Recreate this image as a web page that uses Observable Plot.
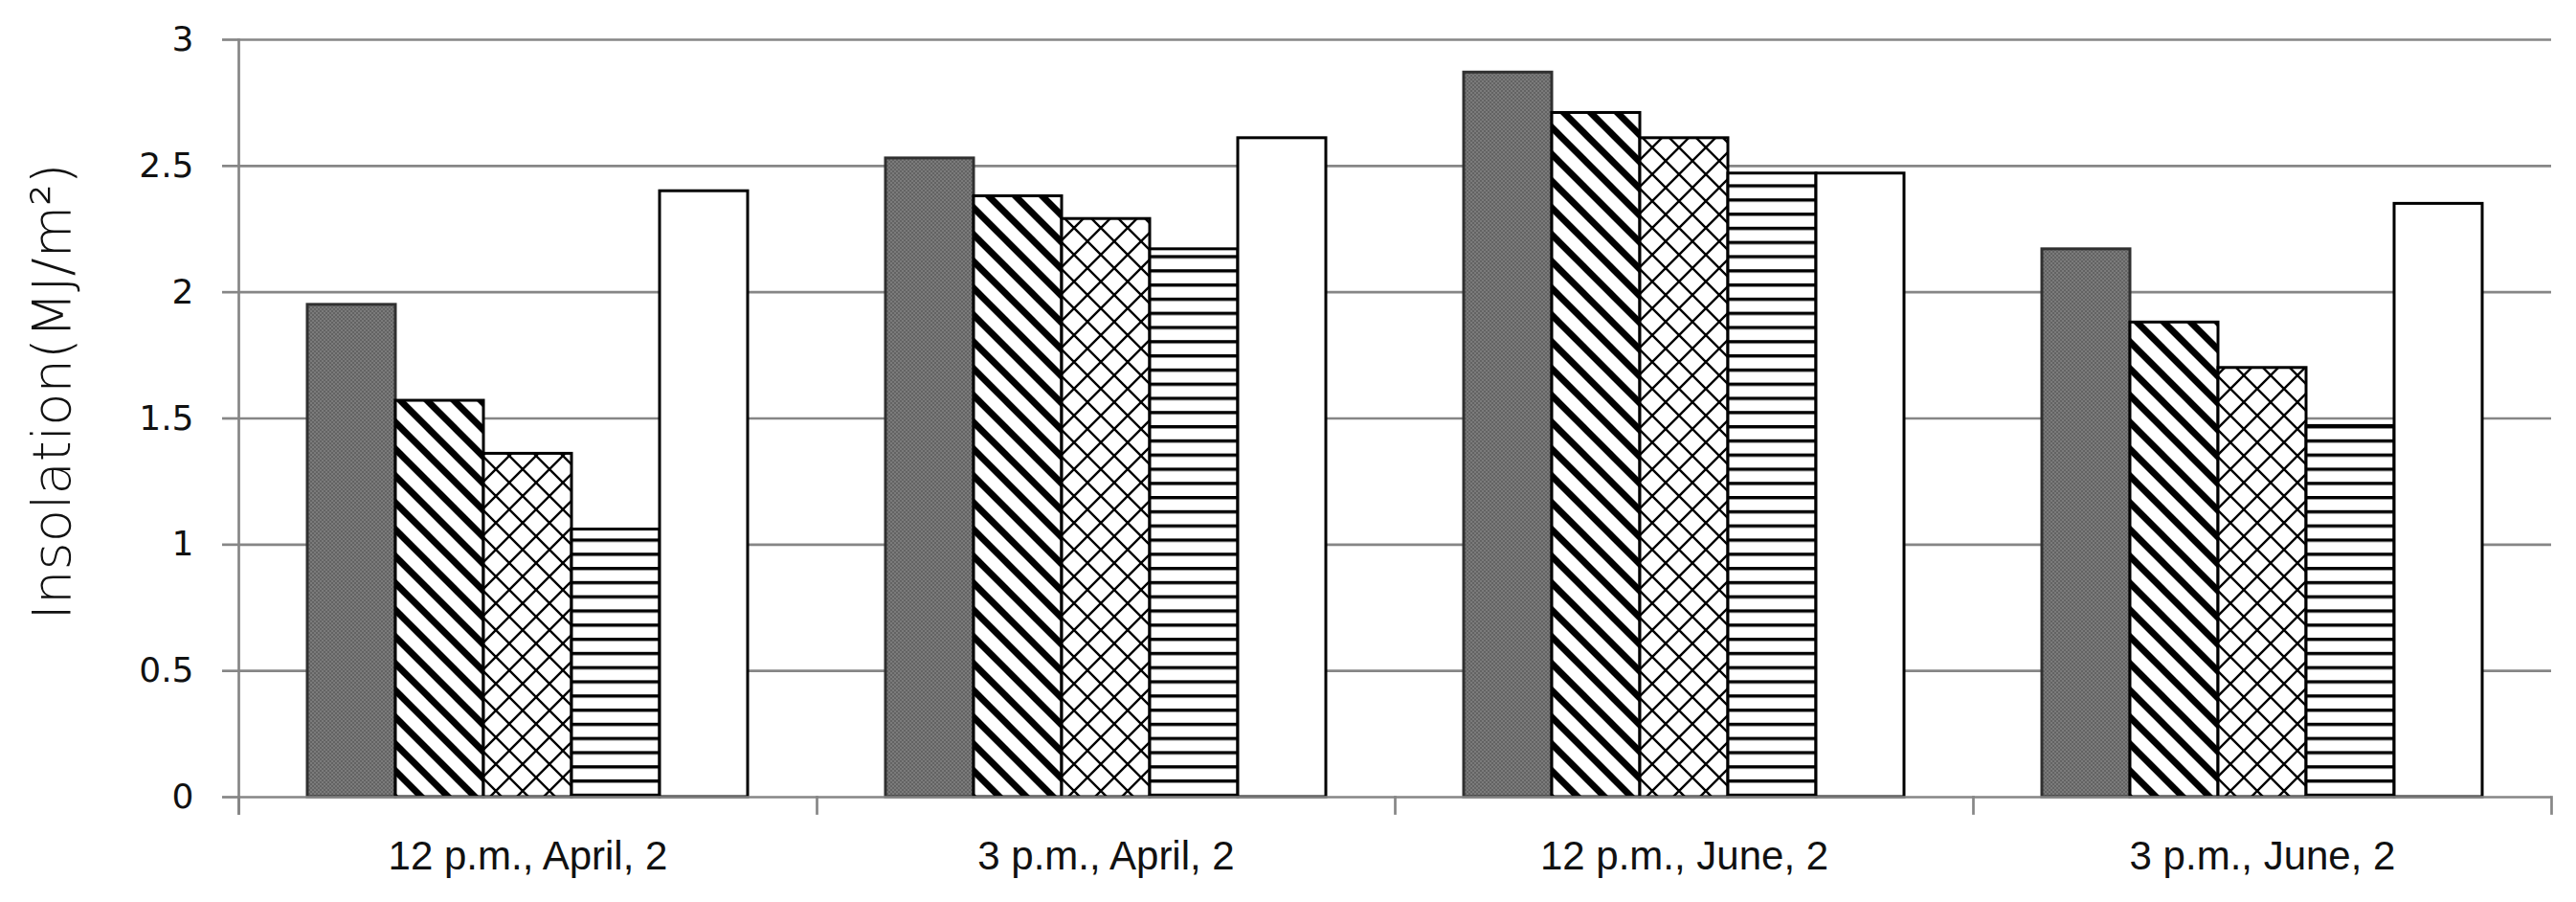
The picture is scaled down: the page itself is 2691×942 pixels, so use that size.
<!DOCTYPE html>
<html>
<head>
<meta charset="utf-8">
<script src="https://cdn.jsdelivr.net/npm/d3@7"></script>
<script src="https://cdn.jsdelivr.net/npm/@observablehq/plot@0.6"></script>
<style>
  html, body { margin: 0; padding: 0; background: #ffffff; }
  #chart svg { display: block; background: #ffffff; }
</style>
</head>
<body>
<svg width="0" height="0" style="position:absolute">
  <defs>
    <pattern id="p-gray" patternUnits="userSpaceOnUse" width="4" height="4">
      <rect width="4" height="4" fill="#636363"/>
      <rect width="2" height="2" fill="#7b7b7b"/>
      <rect x="2" y="2" width="2" height="2" fill="#7b7b7b"/>
    </pattern>
    <pattern id="p-diag" patternUnits="userSpaceOnUse" width="28" height="28">
      <rect width="28" height="28" fill="#ffffff"/>
      <path d="M-4,-4L32,32 M-18,10L18,46 M10,-18L46,18" stroke="#000" stroke-width="7" fill="none"/>
    </pattern>
    <pattern id="p-cross" patternUnits="userSpaceOnUse" width="28" height="28">
      <rect width="28" height="28" fill="#ffffff"/>
      <path d="M-4,-4L32,32 M-18,10L18,46 M10,-18L46,18 M32,-4L-4,32 M-18,18L18,-18 M10,46L46,10" stroke="#000" stroke-width="2.4" fill="none"/>
    </pattern>
    <pattern id="p-horiz" patternUnits="userSpaceOnUse" width="10" height="14.8">
      <rect width="10" height="14.8" fill="#ffffff"/>
      <rect y="0" width="10" height="3.4" fill="#000"/>
    </pattern>
  </defs>
</svg>
<div id="chart"></div>
<script>
// ---- data ----
const categories = ["12 p.m., April, 2", "3 p.m., April, 2", "12 p.m., June, 2", "3 p.m., June, 2"];
const seriesNames = ["Series 1", "Series 2", "Series 3", "Series 4", "Series 5"];
const series1 = [1.95, 2.53, 2.87, 2.17];
const series2 = [1.57, 2.38, 2.71, 1.88];
const series3 = [1.36, 2.29, 2.61, 1.70];
const series4 = [1.06, 2.17, 2.47, 1.47];
const series5 = [2.40, 2.61, 2.47, 2.35];
const yTicks = [0, 0.5, 1, 1.5, 2, 2.5, 3];
const yTickLabels = ["0", "0.5", "1", "1.5", "2", "2.5", "3"];
const yTitle = "Insolation(MJ/m\u00B2)";

// ---- table ----
const seriesValues = [series1, series2, series3, series4, series5];
const data = categories.flatMap((c, i) =>
  seriesNames.map((s, j) => ({category: c, series: s, value: seriesValues[j][i]}))
);
const fills = ["url(#p-gray)", "url(#p-diag)", "url(#p-cross)", "url(#p-horiz)", "#ffffff"];

const W = 2691, H = 942;
const mT = 41, mB = 110, mL = 249, mR = 26;
const innerH = H - mT - mB;
const grid = "#868686";

const chart = Plot.plot({
  width: W,
  height: H,
  marginTop: mT,
  marginBottom: mB,
  marginLeft: mL,
  marginRight: mR,
  style: {background: "#ffffff"},
  fx: {domain: categories, padding: 0, label: null},
  x: {domain: seriesNames, paddingInner: 0, paddingOuter: 0.75, align: 0.5, axis: null},
  y: {domain: [0, 3], label: null},
  color: {domain: seriesNames, range: fills},
  marks: [
    Plot.ruleY(yTicks.filter(d => d > 0), {y: d => d, stroke: grid, strokeWidth: 2.7}),
    Plot.barY(data.filter(d => d.series === seriesNames[0]), {
      fx: "category", x: "series", y: "value", fill: "series",
      stroke: "#303030", strokeWidth: 3, inset: 0
    }),
    Plot.barY(data.filter(d => d.series !== seriesNames[0]), {
      fx: "category", x: "series", y: "value", fill: "series",
      stroke: "#000000", strokeWidth: 3, inset: 0
    }),
    Plot.ruleY([0], {stroke: grid, strokeWidth: 2.7}),
    Plot.frame({anchor: "left", stroke: grid, strokeWidth: 2.7, insetTop: innerH, insetBottom: -17}),
    Plot.frame({anchor: "right", facetAnchor: "right", stroke: grid, strokeWidth: 2.7, insetTop: innerH, insetBottom: -17}),
    Plot.frame({anchor: "left", facetAnchor: "left", stroke: grid, strokeWidth: 2.7, insetBottom: -17}),
    Plot.axisY({
      ticks: yTicks,
      tickFormat: d => yTickLabels[yTicks.indexOf(d)],
      tickSize: 17, tickPadding: 30,
      stroke: grid, strokeWidth: 2.7,
      fill: "#111111", fontSize: 36, fontFamily: "DejaVu Sans",
      label: null
    }),
    Plot.axisFx({
      anchor: "bottom", tickSize: 0, tickPadding: 46,
      fill: "#111111", fontSize: 42, fontFamily: "Liberation Sans",
      label: null
    }),
    Plot.text([yTitle], {
      text: d => d,
      frameAnchor: "left",
      facetAnchor: "left",
      textAnchor: "middle",
      dx: -194, dy: -28,
      rotate: -90,
      fontSize: 56,
      fontFamily: "DejaVu Sans",
      fontWeight: 200,
      fill: "#111111"
    })
  ]
});

document.getElementById("chart").appendChild(chart);
</script>
</body>
</html>
